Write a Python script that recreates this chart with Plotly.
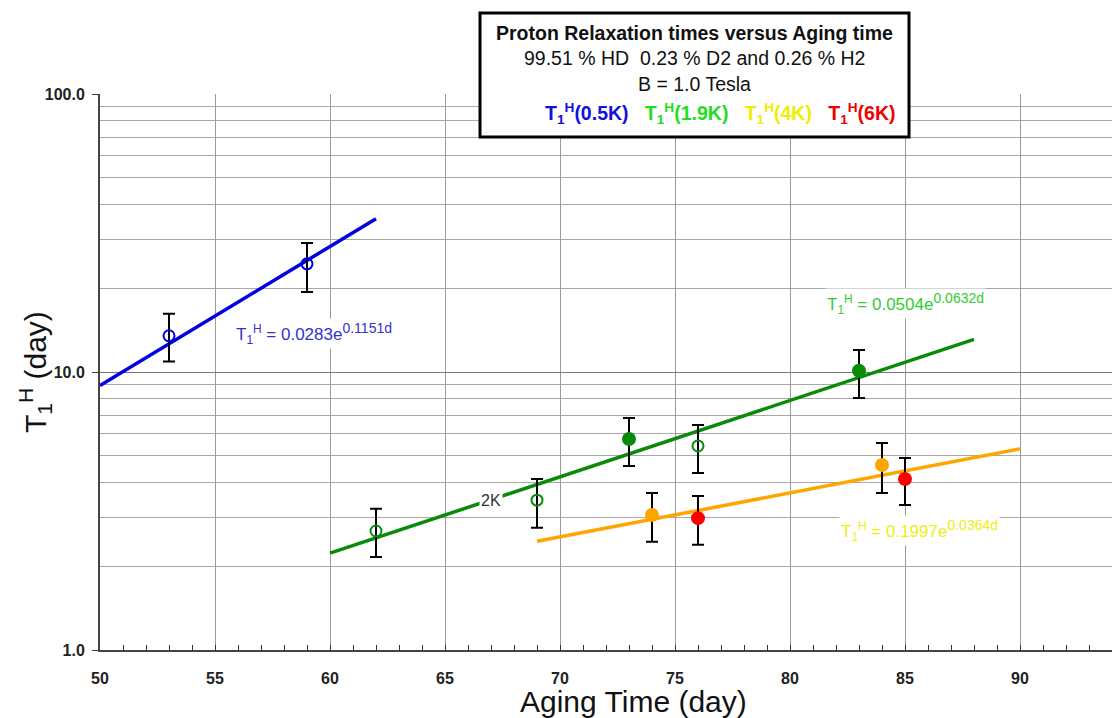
import plotly.graph_objects as go

# ---- data ----
x_05K = [53, 59]
y_05K = [13.5, 24.5]
hi_05K = [16.2, 29.1]
lo_05K = [10.9, 19.4]

x_19K_open = [62, 69, 76]
y_19K_open = [2.68, 3.46, 5.42]
hi_19K_open = [3.22, 4.12, 6.45]
lo_19K_open = [2.16, 2.75, 4.33]

x_19K_fill = [73, 83]
y_19K_fill = [5.74, 10.1]
hi_19K_fill = [6.83, 12.0]
lo_19K_fill = [4.59, 8.06]

x_4K = [74, 84]
y_4K = [3.06, 4.63]
hi_4K = [3.67, 5.55]
lo_4K = [2.45, 3.67]

x_6K = [76, 85]
y_6K = [2.98, 4.12]
hi_6K = [3.58, 4.91]
lo_6K = [2.39, 3.32]

fit_05K_x = [50, 62]
fit_05K_y = [8.94, 35.6]
fit_19K_x = [60, 88]
fit_19K_y = [2.23, 13.1]
fit_4K_x = [69, 90]
fit_4K_y = [2.46, 5.29]

x_ticks = [50, 55, 60, 65, 70, 75, 80, 85, 90]
y_ticks = [1, 10, 100]
y_tick_labels = ["1.0", "10.0", "100.0"]
y_minor = [2, 3, 4, 5, 6, 7, 8, 9, 20, 30, 40, 50, 60, 70, 80, 90]

BLUE = "#0000e0"
GREEN = "#0a8a0a"
ORANGE = "#ffa500"
RED = "#ff0000"

fig = go.Figure()

for fx, fy, col in [(fit_05K_x, fit_05K_y, BLUE), (fit_19K_x, fit_19K_y, GREEN), (fit_4K_x, fit_4K_y, ORANGE)]:
    fig.add_trace(go.Scatter(x=fx, y=fy, mode="lines", line=dict(color=col, width=3.5), hoverinfo="skip"))


def pts(x, y, hi, lo, col, symbol, size):
    fig.add_trace(go.Scatter(
        x=x, y=y, mode="markers",
        marker=dict(color=col, symbol=symbol, size=size, line=dict(color=col, width=2)),
        error_y=dict(type="data", symmetric=False,
                     array=[h - v for h, v in zip(hi, y)],
                     arrayminus=[v - l for l, v in zip(lo, y)],
                     color="black", thickness=2, width=6),
    ))


pts(x_05K, y_05K, hi_05K, lo_05K, BLUE, "circle-open", 11)
pts(x_19K_open, y_19K_open, hi_19K_open, lo_19K_open, GREEN, "circle-open", 11)
pts(x_19K_fill, y_19K_fill, hi_19K_fill, lo_19K_fill, GREEN, "circle", 12)
pts(x_4K, y_4K, hi_4K, lo_4K, ORANGE, "circle", 12)
pts(x_6K, y_6K, hi_6K, lo_6K, RED, "circle", 12)

FONT = "Liberation Sans, Arial, sans-serif"

fig.update_layout(
    width=1112, height=718,
    margin=dict(l=100, r=0, t=94, b=68),
    paper_bgcolor="white", plot_bgcolor="white",
    showlegend=False,
    font=dict(family=FONT, color="#111"),
    xaxis=dict(
        range=[50, 94], tickvals=x_ticks, ticktext=[f"<b>{v}</b>" for v in x_ticks],
        tickfont=dict(size=16, color="#222"), ticks="inside", ticklen=5, tickcolor="#333",
        ticklabelstandoff=13,
        showgrid=True, gridcolor="#9a9a9a", gridwidth=1,
        showline=True, linecolor="#444", linewidth=2, zeroline=False,
        minor=dict(dtick=1, ticks="inside", ticklen=5, tickcolor="#333", showgrid=False),
    ),
    yaxis=dict(
        type="log", range=[0, 2], tickvals=y_ticks,
        ticktext=[f"<b>{t}</b>" for t in y_tick_labels],
        tickfont=dict(size=16, color="#222"), ticks="outside", ticklen=6, tickcolor="#444",
        ticklabelstandoff=4,
        showgrid=True, gridcolor="#777", gridwidth=1,
        showline=True, linecolor="#444", linewidth=2, zeroline=False,
        minor=dict(tickmode="array", tickvals=y_minor, showgrid=True, gridcolor="#a8a8a8",
                   gridwidth=1, ticks=""),
    ),
)

# title box
fig.add_shape(type="rect", xref="paper", yref="paper",
              x0=0.3755, x1=0.7994, y0=0.9227, y1=1.1457,
              line=dict(color="black", width=3), fillcolor="white", layer="above")

cx = 0.5875
common = dict(xref="paper", yref="paper", showarrow=False, xanchor="center", yanchor="middle")
fig.add_annotation(x=cx, y=1.1097, text="<b>Proton Relaxation times versus Aging time</b>",
                   font=dict(size=19.5, color="#111"), **common)
fig.add_annotation(x=cx, y=1.0647, text="99.51 % HD  0.23 % D2 and 0.26 % H2",
                   font=dict(size=19.5, color="#111"), **common)
fig.add_annotation(x=cx, y=1.018, text="B = 1.0 Tesla",
                   font=dict(size=19.5, color="#111"), **common)
legend_txt = (
    "<span style='color:#1010e0'><b>T<sub>1</sub><sup>H</sup>(0.5K)</b></span>   "
    "<span style='color:#22dd22'><b>T<sub>1</sub><sup>H</sup>(1.9K)</b></span>   "
    "<span style='color:#eeee00'><b>T<sub>1</sub><sup>H</sup>(4K)</b></span>   "
    "<span style='color:#ee0000'><b>T<sub>1</sub><sup>H</sup>(6K)</b></span>"
)
fig.add_annotation(x=0.6136, y=0.9658, text=legend_txt, font=dict(size=19.5), **common)


def eq_text(coef, expo):
    return (f"T<sub>1</sub><sup>H</sup> = {coef}e"
            f"<sup><span style='font-size:14px'>{expo}</span></sup>")


# equations (annotation y on log axis is log10)
eq = dict(showarrow=False, bgcolor="white", xanchor="center", yanchor="middle")
fig.add_annotation(x=59.3, y=1.14, text=eq_text("0.0283", "0.1151d"),
                   font=dict(size=17, color="#3333cc"), **eq)
fig.add_annotation(x=85.0, y=1.245, text=eq_text("0.0504", "0.0632d"),
                   font=dict(size=17, color="#33cc33"), **eq)
fig.add_annotation(x=85.65, y=0.43, text=eq_text("0.1997", "0.0364d"),
                   font=dict(size=17, color="#eeee11"), **eq)
fig.add_annotation(x=67.0, y=0.536, text="2K", font=dict(size=16, color="#333"), **eq)

# axis titles
fig.add_annotation(x=0.5267, y=-0.0935, text="Aging Time (day)",
                   font=dict(size=30, color="#111"), **common)
fig.add_annotation(x=-0.0642, y=0.5, textangle=-90, text="T<sub>1</sub><sup>H</sup> (day)",
                   font=dict(size=30, color="#111"), **common)

fig.write_html("out.html")
